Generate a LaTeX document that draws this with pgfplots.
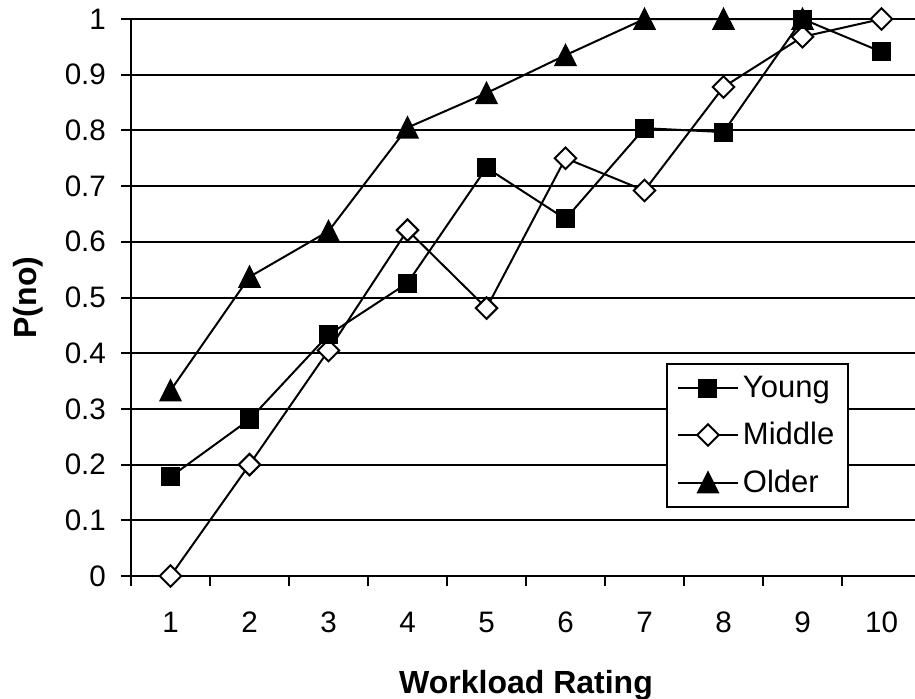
\documentclass[border=0pt]{standalone}
\usepackage{fontspec}
\setmainfont{Liberation Sans}
\usepackage{pgfplots}
\pgfplotsset{compat=1.18}
\begin{document}
\begin{tikzpicture}
\useasboundingbox (-65.5pt,-61pt) rectangle (392pt,288pt);
\clip (-65.5pt,-61pt) rectangle (392pt,288pt);
\begin{axis}[
  at={(0pt,0pt)}, anchor=south west,
  scale only axis,
  width=395pt, height=278.5pt,
  xmin=0.5, xmax=10.5, ymin=0, ymax=1,
  clip=false,
  axis lines*=left,
  axis line style={line width=1pt,-},
  xtick={1,2,3,4,5,6,7,8,9,10},
  minor xtick={0.5,1.5,2.5,3.5,4.5,5.5,6.5,7.5,8.5,9.5,10.5},
  ytick={0,0.1,0.2,0.3,0.4,0.5,0.6,0.7,0.8,0.9,1},
  yticklabels={0,0.1,0.2,0.3,0.4,0.5,0.6,0.7,0.8,0.9,1},
  tick align=outside,
  major tick length=5pt,
  minor tick length=5pt,
  major x tick style={draw=none},
  minor x tick style={line width=1pt,black},
  major y tick style={line width=1pt,black},
  ymajorgrids=true,
  major grid style={line width=1pt,black},
  /pgf/number format/assume math mode=true,
  tick label style={font=\fontsize{14.8}{17}\selectfont},
  yticklabel style={xshift=-4pt},
  xticklabel style={yshift=-9.5pt},
  xlabel={\textbf{Workload Rating}},
  ylabel={\textbf{P(no)}},
  xlabel style={at={(axis description cs:0.5,-0.1688)}, anchor=north, inner sep=0pt, font=\fontsize{16}{19}\selectfont},
  ylabel style={at={(axis description cs:-0.1304,0.5)}, anchor=center, inner sep=0pt, font=\fontsize{16}{19}\selectfont},
  legend style={at={(axis description cs:0.6772,0.3824)}, anchor=north west, draw=black, line width=1pt, fill=white,
    font=\fontsize{15.5}{18}\selectfont, inner xsep=5pt, inner ysep=4pt, row sep=7pt},
  legend cell align=left,
  reverse legend,
  legend image code/.code={\draw[mark repeat=2,mark phase=2] plot coordinates {(0pt,0pt)(15pt,0pt)(30pt,0pt)};},
  every axis plot/.append style={line width=1pt, black},
]
\addplot[mark=triangle*, mark size=5.77pt, mark options={yshift=-1.66pt, yscale=1.15, fill=black}]
  coordinates {(1,0.333)(2,0.537)(3,0.619)(4,0.805)(5,0.867)(6,0.935)(7,1.0)(8,1.0)(9,1.0)};
\addlegendentry{Older}
\addplot[mark=square*, mark size=3.8pt, mark options={rotate=45, fill=white, draw=black}]
  coordinates {(1,0)(2,0.2)(3,0.405)(4,0.621)(5,0.481)(6,0.75)(7,0.692)(8,0.878)(9,0.968)(10,1.0)};
\addlegendentry{Middle}
\addplot[mark=square*, mark size=4.25pt, mark options={fill=black}]
  coordinates {(1,0.178)(2,0.281)(3,0.433)(4,0.526)(5,0.733)(6,0.641)(7,0.804)(8,0.797)(9,1.0)(10,0.941)};
\addlegendentry{Young}
\end{axis}
\end{tikzpicture}
\end{document}
